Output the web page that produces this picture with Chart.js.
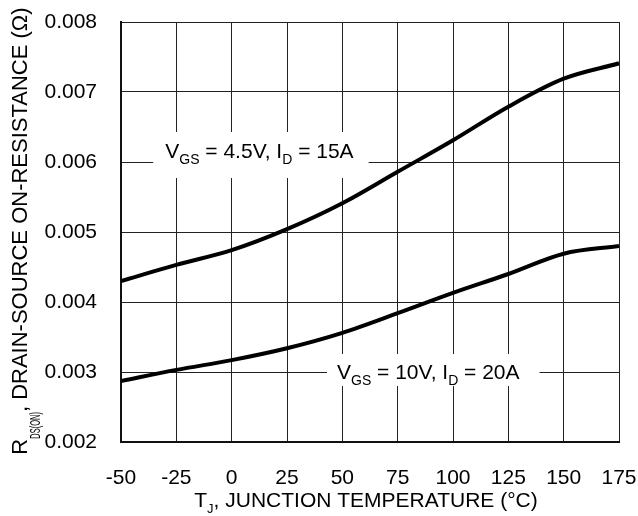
<!DOCTYPE html>
<html><head><meta charset="utf-8">
<script src="https://cdn.jsdelivr.net/npm/chart.js@4.4.1/dist/chart.umd.min.js"></script>
<style>html,body{margin:0;padding:0;background:#fff}#wrap{width:638px;height:516px;position:relative}</style>
</head><body><div id="wrap"><canvas id="c" width="638" height="516"></canvas></div>
<script>
const temps = [-50, -25, 0, 25, 50, 75, 100, 125, 150, 175];
const rds45 = [0.00430, 0.00453, 0.00474, 0.00504, 0.00541, 0.00586, 0.00631, 0.00679, 0.00719, 0.00741];
const rds10 = [0.00287, 0.00303, 0.00317, 0.00334, 0.00356, 0.00384, 0.00413, 0.00440, 0.00469, 0.00480];
const xTickLabels = ['-50', '-25', '0', '25', '50', '75', '100', '125', '150', '175'];
const yTickLabels = ['0.002', '0.003', '0.004', '0.005', '0.006', '0.007', '0.008'];

const FONT = '"Liberation Sans", Arial, sans-serif';

function drawRich(ctx, parts, x, y, measureOnly) {
  let cx = x;
  for (const p of parts) {
    ctx.font = p.size + 'px ' + FONT;
    const w = ctx.measureText(p.t).width * (p.sx || 1);
    if (!measureOnly) {
      ctx.save();
      ctx.translate(cx, y + (p.dy || 0));
      ctx.scale(p.sx || 1, 1);
      ctx.fillText(p.t, 0, 0);
      ctx.restore();
    }
    cx += w;
  }
  return cx - x;
}

const label45 = [{t:'V',size:21},{t:'GS',size:14,dy:6},{t:' = 4.5V, I',size:21},{t:'D',size:14,dy:6},{t:' = 15A',size:21}];
const label10 = [{t:'V',size:21},{t:'GS',size:14,dy:6},{t:' = 10V, I',size:21},{t:'D',size:14,dy:6},{t:' = 20A',size:21}];
const xTitle = [{t:'T',size:21},{t:'J',size:13,dy:6},{t:', JUNCTION TEMPERATURE (°C)',size:21}];
const yTitle = [{t:'R',size:22},{t:'DS(ON)',size:15,dy:13,sx:0.5},{t:', DRAIN-SOURCE ON-RESISTANCE (Ω)',size:22}];

const annot = {
  id: 'annot',
  beforeDatasetsDraw(chart) {
    const ctx = chart.ctx, xs = chart.scales.x, ys = chart.scales.y;
    ctx.save();
    ctx.fillStyle = '#000';
    ctx.textBaseline = 'alphabetic';
    const items = [
      {parts: label45, tx: -30, ty: 0.006, dyB: -4, pl: 12, pr: 15, up: 26, dn: 20},
      {parts: label10, tx: 47.6, ty: 0.003, dyB: 7, pl: 10, pr: 20, up: 25, dn: 7}
    ];
    for (const it of items) {
      const x = xs.getPixelForValue(it.tx);
      const y = ys.getPixelForValue(it.ty) + it.dyB;
      const w = drawRich(ctx, it.parts, x, y, true);
      ctx.fillStyle = '#fff';
      ctx.fillRect(x - it.pl, y - it.up, w + it.pl + it.pr, it.up + it.dn);
      ctx.fillStyle = '#000';
      drawRich(ctx, it.parts, x, y, false);
    }
    ctx.restore();
  },
  afterDraw(chart) {
    const ctx = chart.ctx, ca = chart.chartArea;
    ctx.save();
    ctx.fillStyle = '#000';
    ctx.textBaseline = 'alphabetic';
    const wx = drawRich(ctx, xTitle, 0, 0, true);
    const cxm = (ca.left + ca.right) / 2 - 4;
    drawRich(ctx, xTitle, cxm - wx / 2, ca.bottom + 65, false);
    const wy = drawRich(ctx, yTitle, 0, 0, true);
    ctx.translate(27, (ca.top + ca.bottom) / 2 - 1);
    ctx.rotate(-Math.PI / 2);
    drawRich(ctx, yTitle, -wy / 2, 0, false);
    ctx.restore();
  }
};

new Chart(document.getElementById('c'), {
  type: 'line',
  data: {
    datasets: [
      {data: temps.map((t, i) => ({x: t, y: rds45[i]})), borderColor: '#000', borderWidth: 4, pointRadius: 0, fill: false, cubicInterpolationMode: 'monotone'},
      {data: temps.map((t, i) => ({x: t, y: rds10[i]})), borderColor: '#000', borderWidth: 4, pointRadius: 0, fill: false, cubicInterpolationMode: 'monotone'}
    ]
  },
  options: {
    responsive: false,
    animation: false,
    devicePixelRatio: 1,
    layout: {padding: {top: 22, right: 19, left: 0, bottom: 0}},
    plugins: {legend: {display: false}, tooltip: {enabled: false}},
    scales: {
      x: {
        type: 'linear', min: -50, max: 175,
        afterBuildTicks(s) { s.ticks = temps.map(v => ({value: v})); },
        afterFit(s) { s.height = 74; s.paddingLeft = 0; s.paddingRight = 0; },
        ticks: {color: '#000', font: {size: 21, family: FONT}, padding: 24, maxRotation: 0,
          callback: (v, i) => xTickLabels[i]},
        grid: {color: '#222', lineWidth: 1, drawTicks: false},
        border: {color: '#111', width: 2}
      },
      y: {
        type: 'linear', min: 0.002, max: 0.008,
        afterBuildTicks(s) { s.ticks = yTickLabels.map(v => ({value: parseFloat(v)})); },
        afterFit(s) { s.width = 121; s.paddingTop = 0; s.paddingBottom = 0; },
        ticks: {color: '#000', font: {size: 21, family: FONT}, padding: 24,
          callback: (v, i) => yTickLabels[i]},
        grid: {color: '#222', lineWidth: 1, drawTicks: false},
        border: {color: '#111', width: 2}
      }
    }
  },
  plugins: [annot]
});
</script>
</body></html>
